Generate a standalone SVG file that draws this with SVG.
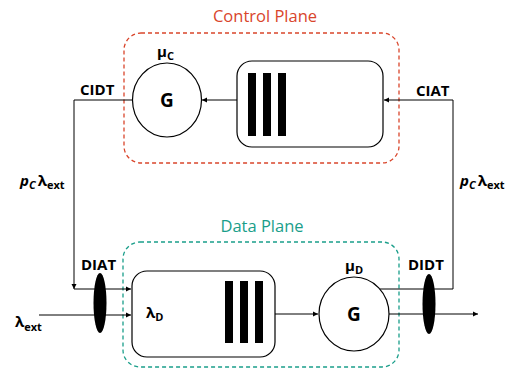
<svg xmlns="http://www.w3.org/2000/svg" width="514" height="369" viewBox="0 0 514 369">
<style>
.lbl{font-family:"Open Sans","Liberation Sans",sans-serif;font-weight:bold;font-size:15px;fill:#000}
.g{font-family:"Open Sans","Liberation Sans",sans-serif;font-weight:bold;font-size:19px;fill:#000}
.ln{stroke:#000;stroke-width:1;fill:none}
.node{fill:#fff;stroke:#000;stroke-width:1.2}
.box{fill:#fff;stroke:#000;stroke-width:1.2}
.bar{fill:#000}
.sub{font-size:11px}
.title{font-family:"Open Sans","Liberation Sans",sans-serif;font-size:16.5px}
</style>
<defs>
<marker id="ah" markerWidth="6" markerHeight="6" refX="5" refY="3" orient="auto" markerUnits="userSpaceOnUse">
<path d="M0,0.5 L5,3 L0,5.5 Z" fill="#000"/>
</marker>
</defs>
<g id="control-plane">
<rect x="124" y="33" width="275" height="130" rx="17" fill="none" stroke="#d9452b" stroke-width="1.3" stroke-dasharray="4,3"/>
<text class="title" x="265" y="22" text-anchor="middle" fill="#d9452b">Control Plane</text>
</g>
<g id="data-plane">
<rect x="123" y="242" width="276" height="125" rx="17" fill="none" stroke="#1a9e8a" stroke-width="1.3" stroke-dasharray="4,3"/>
<text class="title" x="262" y="232" text-anchor="middle" fill="#1a9e8a">Data Plane</text>
</g>
<g id="connectors">
<line class="ln" x1="237" y1="100" x2="202" y2="100" marker-end="url(#ah)"/>
<polyline class="ln" points="132.5,100 74,100 74,289" marker-end="url(#ah)"/>
<line class="ln" x1="74" y1="289" x2="131" y2="289" marker-end="url(#ah)"/>
<polyline class="ln" points="380,289 453,289 453,100 384,100" marker-end="url(#ah)"/>
<line class="ln" x1="39" y1="315" x2="131" y2="315" marker-end="url(#ah)"/>
<line class="ln" x1="275" y1="314" x2="318" y2="314" marker-end="url(#ah)"/>
<line class="ln" x1="389" y1="314" x2="478" y2="314" marker-end="url(#ah)"/>
</g>
<g id="control-queue">
<rect class="box" x="237" y="61" width="146" height="86" rx="15"/>
<rect class="bar" x="248" y="73" width="8" height="63"/>
<rect class="bar" x="263" y="73" width="8" height="63"/>
<rect class="bar" x="278" y="73" width="8" height="63"/>
</g>
<g id="control-server">
<ellipse class="node" cx="167" cy="100" rx="34.5" ry="37"/>
<text class="g" x="167" y="107" text-anchor="middle">G</text>
<text class="lbl" x="157" y="57">μ<tspan class="sub" dy="3">C</tspan></text>
</g>
<g id="data-queue">
<rect class="box" x="132" y="271" width="143" height="86" rx="15"/>
<rect class="bar" x="225" y="281" width="8" height="62"/>
<rect class="bar" x="240" y="281" width="8" height="62"/>
<rect class="bar" x="255" y="281" width="8" height="62"/>
<text class="lbl" x="146" y="318">λ<tspan class="sub" dy="3">D</tspan></text>
</g>
<g id="data-server">
<ellipse class="node" cx="354" cy="314" rx="35" ry="37"/>
<text class="g" x="354" y="321" text-anchor="middle">G</text>
<text class="lbl" x="345" y="271">μ<tspan class="sub" dy="3">D</tspan></text>
</g>
<g id="diat">
<ellipse cx="100" cy="303" rx="6.5" ry="30" fill="#000"/>
<text class="lbl" x="81" y="270">DIAT</text>
</g>
<g id="didt">
<ellipse cx="429" cy="304" rx="6.5" ry="30" fill="#000"/>
<text class="lbl" x="408" y="270">DIDT</text>
</g>
<g id="labels">
<text class="lbl" x="80" y="95">CIDT</text>
<text class="lbl" x="416" y="96">CIAT</text>
<text class="lbl" x="15" y="327">λ<tspan class="sub" dy="4">ext</tspan></text>
<text class="lbl" x="20" y="186"><tspan font-style="italic">p</tspan><tspan class="sub" font-style="italic" dy="3">C</tspan><tspan dy="-3" dx="2">λ</tspan><tspan class="sub" dy="3">ext</tspan></text>
<text class="lbl" x="460" y="186"><tspan font-style="italic">p</tspan><tspan class="sub" font-style="italic" dy="3">C</tspan><tspan dy="-3" dx="2">λ</tspan><tspan class="sub" dy="3">ext</tspan></text>
</g>
</svg>
